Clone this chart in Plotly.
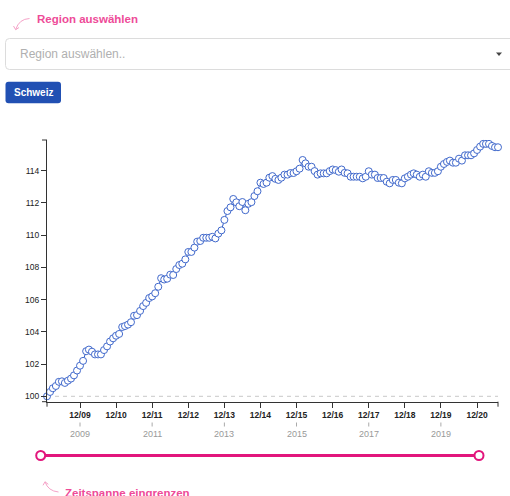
import pandas as pd
import plotly.graph_objects as go

# ---------------- data ----------------
start_month = "2009-01-01"
index_values = [
    100.0, 100.27, 100.5, 100.64, 100.9, 100.93, 100.83, 100.97, 101.1, 101.3,
    101.6, 101.9, 102.2, 102.8, 102.9, 102.77, 102.6, 102.6, 102.6, 102.87,
    103.1, 103.4, 103.6, 103.76, 103.87, 104.3, 104.36, 104.45, 104.6, 105.0,
    105.04, 105.3, 105.6, 105.8, 106.1, 106.2, 106.4, 106.8, 107.33, 107.25,
    107.3, 107.55, 107.53, 107.9, 108.15, 108.23, 108.5, 108.96, 108.96, 109.23,
    109.6, 109.64, 109.84, 109.84, 109.84, 109.9, 109.8, 110.1, 110.3, 110.95,
    111.5, 111.73, 112.25, 112.04, 111.8, 112.06, 111.55, 111.95, 112.05, 112.43,
    112.73, 113.26, 113.18, 113.26, 113.57, 113.67, 113.5, 113.43, 113.57, 113.76,
    113.76, 113.86, 113.86, 113.97, 114.13, 114.67, 114.46, 114.25, 114.25, 113.98,
    113.76, 113.84, 113.84, 113.84, 113.98, 114.08, 114.04, 113.94, 114.08, 113.87,
    113.84, 113.63, 113.63, 113.63, 113.63, 113.53, 113.63, 113.97, 113.76, 113.76,
    113.55, 113.55, 113.55, 113.32, 113.22, 113.43, 113.43, 113.26, 113.22, 113.53,
    113.63, 113.76, 113.84, 113.76, 113.63, 113.76, 113.63, 113.97, 113.87, 113.87,
    113.97, 114.25, 114.42, 114.55, 114.63, 114.5, 114.5, 114.75, 114.63, 114.96,
    114.96, 114.96, 115.08, 115.29, 115.5, 115.67, 115.67, 115.67, 115.54, 115.46,
    115.46,
]
months = pd.date_range(start_month, periods=len(index_values), freq="MS")

x_tick_dates = ["2009-12-01", "2010-12-01", "2011-12-01", "2012-12-01", "2013-12-01",
                "2014-12-01", "2015-12-01", "2016-12-01", "2017-12-01", "2018-12-01",
                "2019-12-01", "2020-12-01"]
x_tick_labels = ["12/09", "12/10", "12/11", "12/12", "12/13", "12/14",
                 "12/15", "12/16", "12/17", "12/18", "12/19", "12/20"]
year_dates = ["2009-12-01", "2011-12-01", "2013-12-01", "2015-12-01", "2017-12-01", "2019-12-01"]
year_labels = ["2009", "2011", "2013", "2015", "2017", "2019"]
y_tick_values = [100, 102, 104, 106, 108, 110, 112, 114]
baseline_value = 100

# ---------------- layout helpers ----------------
W, H = 510, 496
def px(x):
    return x / W
def py(y):
    return 1 - y / H

PINK_TXT = "#ee4b98"
PINK_LINE = "#e2157c"
PINK_ARROW = "#f5a3c8"
BLUE = "#4169cc"
AXIS = "#333333"
FONT = "Liberation Sans, Arial, sans-serif"

plot_left, plot_right = 47, 498
plot_top, plot_bottom = 140, 401.7

fig = go.Figure()
fig.add_trace(go.Scatter(
    x=months, y=index_values, mode="lines+markers",
    line=dict(color="#2a57c2", width=1),
    marker=dict(size=7, color="white", line=dict(color=BLUE, width=1)),
    hoverinfo="x+y", showlegend=False, cliponaxis=False,
))

shapes = []
annotations = []

# baseline dashed line
shapes.append(dict(type="line", xref="x domain", yref="y", x0=0, x1=1,
                   y0=baseline_value, y1=baseline_value,
                   line=dict(color="#c8c8c8", width=1, dash="4px,4px"), layer="below"))

# outer (domain-end) ticks like d3
def seg(x0, y0, x1, y1, color=AXIS, w=1):
    shapes.append(dict(type="line", xref="paper", yref="paper",
                       x0=px(x0), y0=py(y0), x1=px(x1), y1=py(y1),
                       line=dict(color=color, width=w)))
seg(plot_left - 5, plot_top, plot_left, plot_top)
seg(plot_left - 5, plot_bottom, plot_left, plot_bottom)
seg(plot_left, plot_bottom, plot_left, plot_bottom + 5)
seg(plot_right, plot_bottom, plot_right, plot_bottom + 5)

# year labels with small ticks
for d, lab in zip(year_dates, year_labels):
    shapes.append(dict(type="line", xref="x", yref="paper", x0=d, x1=d,
                       y0=py(422.5), y1=py(426.5), line=dict(color="#aaaaaa", width=1)))
    annotations.append(dict(x=d, y=py(433.5), xref="x", yref="paper", text=lab,
                            showarrow=False, xanchor="center", yanchor="middle",
                            font=dict(family=FONT, size=9, color="#999999")))

def rrect(x0, y0, x1, y1, r):
    X0, X1 = px(x0), px(x1)
    Y0, Y1 = py(y0), py(y1)
    rx, ry = r / W, r / H
    return (f"M{X0+rx},{Y0} L{X1-rx},{Y0} Q{X1},{Y0} {X1},{Y0-ry} "
            f"L{X1},{Y1+ry} Q{X1},{Y1} {X1-rx},{Y1} L{X0+rx},{Y1} "
            f"Q{X0},{Y1} {X0},{Y1+ry} L{X0},{Y0-ry} Q{X0},{Y0} {X0+rx},{Y0} Z")

# dropdown box
shapes.append(dict(type="path", xref="paper", yref="paper", path=rrect(5.5, 38.5, 515, 69.5, 4),
                   line=dict(color="#dcdcdc", width=1), fillcolor="white"))
annotations.append(dict(x=px(18), y=py(54), xref="paper", yref="paper", text="Region auswählen..",
                        showarrow=False, xanchor="left", yanchor="middle",
                        font=dict(family=FONT, size=12, color="#b0b0b0")))
# caret
shapes.append(dict(type="path", xref="paper", yref="paper",
                   path=f"M{px(496)},{py(52.5)} L{px(502)},{py(52.5)} L{px(499)},{py(56)} Z",
                   fillcolor="#444444", line=dict(width=0)))

# button
shapes.append(dict(type="path", xref="paper", yref="paper", path=rrect(5.5, 81.7, 61, 103.3, 3),
                   fillcolor="#2150b3", line=dict(width=0)))
annotations.append(dict(x=px(33.3), y=py(92.5), xref="paper", yref="paper", text="<b>Schweiz</b>",
                        showarrow=False, xanchor="center", yanchor="middle",
                        font=dict(family=FONT, size=10, color="white")))

# top hint
annotations.append(dict(x=px(35), y=py(18.5), xref="paper", yref="paper", text="<b>Region auswählen</b>",
                        showarrow=False, xanchor="left", yanchor="middle",
                        font=dict(family=FONT, size=11.5, color=PINK_TXT)))
shapes.append(dict(type="path", xref="paper", yref="paper",
                   path=f"M{px(29.5)},{py(18.5)} Q{px(19)},{py(19)} {px(15.7)},{py(29.5)}",
                   line=dict(color=PINK_ARROW, width=1)))
shapes.append(dict(type="path", xref="paper", yref="paper",
                   path=f"M{px(13.5)},{py(26)} L{px(15.7)},{py(29.7)} L{px(19)},{py(27.5)}",
                   line=dict(color=PINK_ARROW, width=1)))

# slider
seg(40.7, 455.5, 479, 455.5, color=PINK_LINE, w=3)
for cx in (40.7, 479):
    shapes.append(dict(type="circle", xref="paper", yref="paper",
                       x0=px(cx - 4.5), x1=px(cx + 4.5), y0=py(455.5 - 4.5), y1=py(455.5 + 4.5),
                       fillcolor="white", line=dict(color=PINK_LINE, width=2)))

# bottom hint
annotations.append(dict(x=px(62.5), y=py(484.5), xref="paper", yref="paper",
                        text="<b>Zeitspanne eingrenzen</b>",
                        showarrow=False, xanchor="left", yanchor="top",
                        font=dict(family=FONT, size=11.5, color=PINK_TXT)))
shapes.append(dict(type="path", xref="paper", yref="paper",
                   path=f"M{px(58.5)},{py(492)} Q{px(48)},{py(491)} {px(45)},{py(481.8)}",
                   line=dict(color=PINK_ARROW, width=1)))
shapes.append(dict(type="path", xref="paper", yref="paper",
                   path=f"M{px(43)},{py(485.3)} L{px(45)},{py(481.8)} L{px(48.3)},{py(484.3)}",
                   line=dict(color=PINK_ARROW, width=1)))

y_lo = 100 - (plot_bottom - 396.3) / 16.11
y_hi = 100 + (396.3 - plot_top) / 16.11

fig.update_layout(
    width=W, height=H, autosize=False,
    margin=dict(l=0, r=0, t=0, b=0),
    paper_bgcolor="white", plot_bgcolor="white",
    font=dict(family=FONT, color=AXIS),
    shapes=shapes, annotations=annotations,
    xaxis=dict(
        domain=[px(plot_left), px(plot_right)],
        type="date", range=[months[0], months[-1]],
        tickmode="array", tickvals=x_tick_dates, ticktext=x_tick_labels,
        ticks="outside", ticklen=5, tickcolor=AXIS, tickwidth=1,
        showline=True, linecolor=AXIS, linewidth=1,
        showgrid=False, zeroline=False,
        tickfont=dict(family=FONT, size=8.5, color="#222222", weight="bold"),
        fixedrange=True,
    ),
    yaxis=dict(
        domain=[py(plot_bottom), py(plot_top)],
        range=[y_lo, y_hi],
        tickmode="array", tickvals=y_tick_values,
        ticks="outside", ticklen=5, tickcolor=AXIS, tickwidth=1,
        showline=True, linecolor=AXIS, linewidth=1,
        showgrid=False, zeroline=False,
        tickfont=dict(family=FONT, size=8.5, color="#222222"),
        fixedrange=True,
    ),
)

fig.write_html("out.html", config={"displayModeBar": False},
               post_script="document.body.style.margin='0';document.body.style.overflow='hidden';")
